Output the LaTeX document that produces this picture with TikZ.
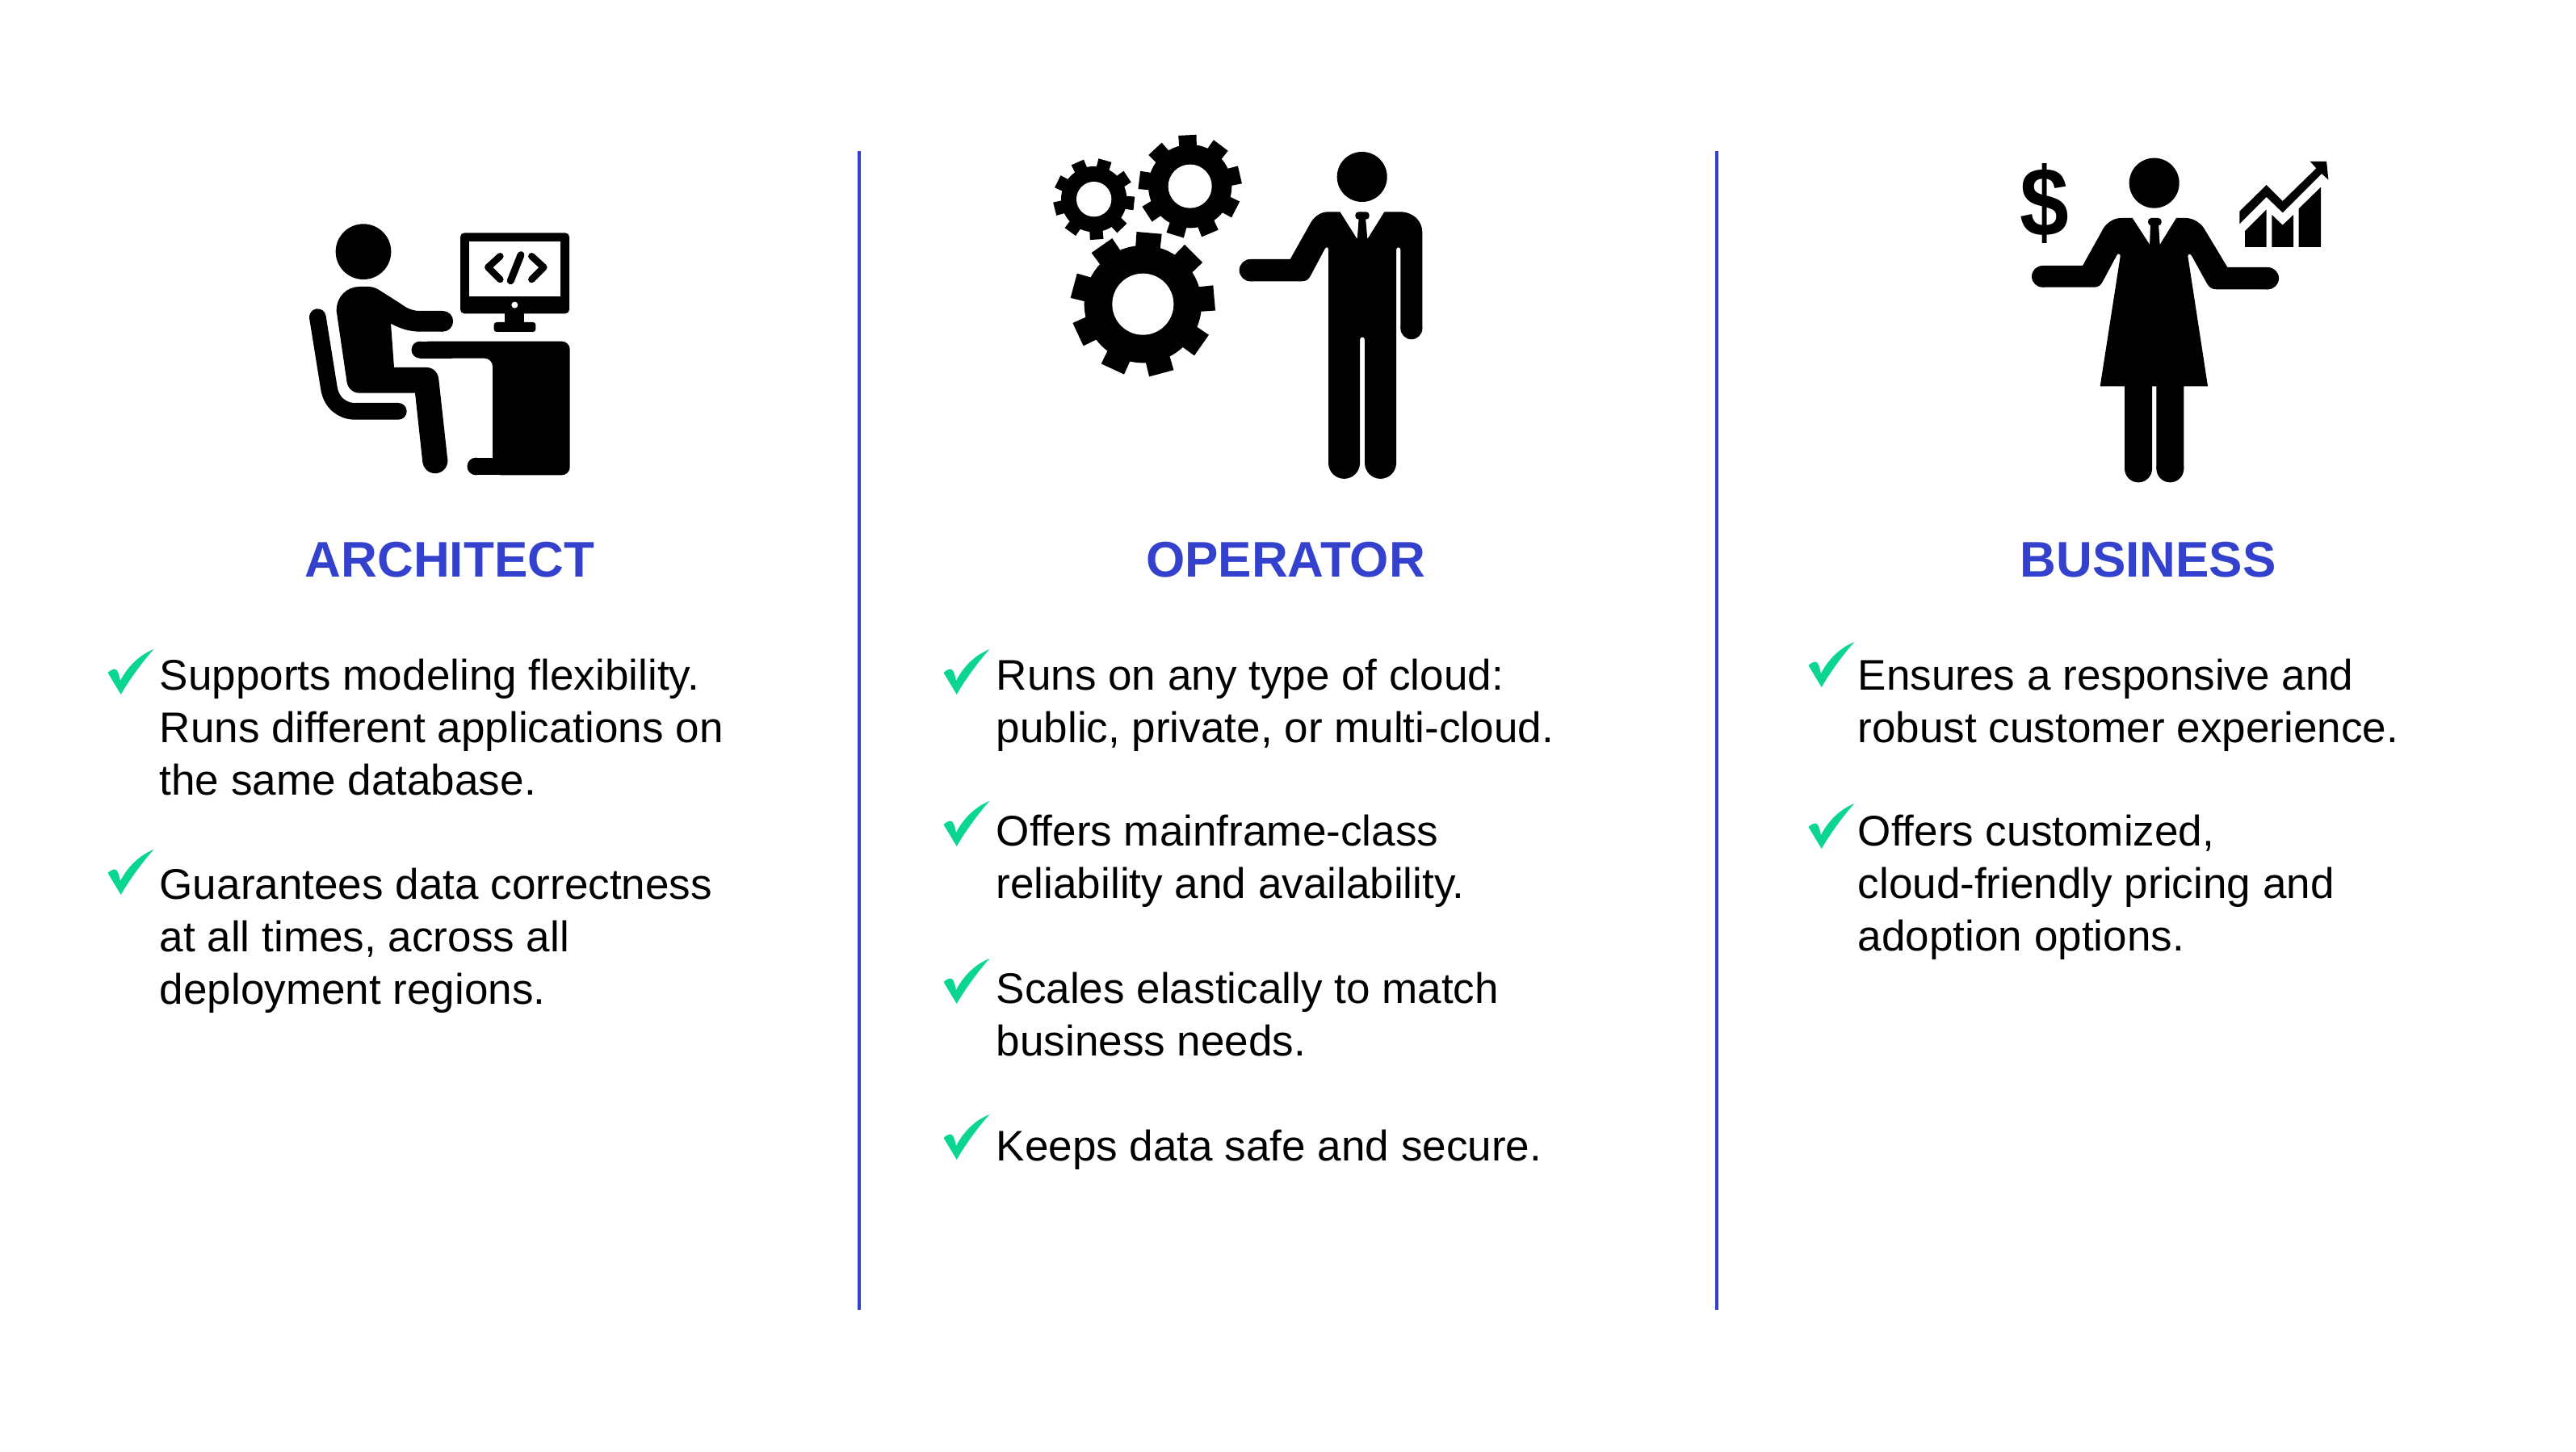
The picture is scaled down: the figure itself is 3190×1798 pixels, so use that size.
\documentclass[tikz,border=0pt]{standalone}
\usepackage{fontspec}
\setmainfont{Liberation Sans}
\definecolor{rolebl}{RGB}{51,65,204}
\definecolor{tickgr}{RGB}{10,214,145}
\tikzset{
  icon/.style={x=.033333mm,y=-.033333mm},
  role/.style={text=rolebl, inner sep=0, anchor=base, font=\fontsize{17.65pt}{20pt}\selectfont\bfseries},
  para/.style={inner sep=0, anchor=north west, align=left, font=\fontsize{15.1pt}{18.5pt}\selectfont,
    execute at begin node={\rule{0pt}{.45cm}}},
  rule/.style={rolebl, line width=.045cm}
}
\begin{document}
\begin{tikzpicture}[x=.1mm,y=-.1mm]
\useasboundingbox (0,0) rectangle (3190,1798);

\draw[rule] (1064,187)--(1064,1622);
\draw[rule] (2126,187)--(2126,1622);

\node[role] (architect) at (557,715) {ARCHITECT};
\node[role] (operator) at (1592,715) {OPERATOR};
\node[role] (business) at (2660,715) {BUSINESS};

\foreach \tx/\ty in {148/860, 148/1108, 1183/860, 1183/1048, 1183/1243, 1183/1436, 2254/851, 2254/1051} {
 \begin{scope}[shift={(\tx,\ty)}]
 \fill[tickgr] (1.7,0) -- (-14.5,-27) .. controls (-10,-31) and (-6,-33) .. (-3.3,-30) .. controls (-1,-27) and (0,-21) .. (1,-17)
   .. controls (8,-31) and (22,-48) .. (42.3,-56) .. controls (28,-40) and (12,-18) .. (1.7,0) -- cycle;
 \end{scope}
}

\node[para] (archa) at (197,815) {Supports modeling flexibility.\\Runs different applications on\\the same database.};
\node[para] (archb) at (197,1074) {Guarantees data correctness\\at all times, across all\\deployment regions.};
\node[para] (opera) at (1233,815) {Runs on any type of cloud:\\public, private, or multi-cloud.};
\node[para] (operb) at (1233,1008) {Offers mainframe-class\\reliability and availability.};
\node[para] (operc) at (1233,1203) {Scales elastically to match\\business needs.};
\node[para] (operd) at (1233,1392) {Keeps data safe and secure.};
\node[para] (busa) at (2300,815) {Ensures a responsive and\\robust customer experience.};
\node[para] (busb) at (2300,1008) {Offers customized,\\cloud-friendly pricing and\\adoption options.};

\begin{scope}[shift={(360,260)},icon]
\fill (270,155) circle[radius=103];
\fill (170,375) .. controls (170,320) and (210,285) .. (255,285) -- (290,285) .. controls (305,285) and (318,291) .. (328,297) -- (405,346)
  .. controls (425,360) and (445,375) .. (480,375) -- (565,375) -- (565,452) -- (480,452) .. controls (440,452) and (405,440) .. (372,422)
  -- (384,585) -- (505,585) .. controls (530,585) and (548,605) .. (550,630) -- (583,930) -- (490,938) -- (462,680) -- (255,680)
  .. controls (230,680) and (210,660) .. (208,635) -- cycle;
\fill (565,413.5) circle[radius=38.5];
\fill (536.5,932) circle[radius=46.5];
\draw[line width=.207cm, line cap=round] (100,398) -- (142,660) .. controls (150,715) and (190,748) .. (240,748) -- (400,748);
\fill[rounded corners=.1cm] (480,488) -- (1037,488) -- (1037,985) -- (750,985) -- (750,551) -- (480,551) -- cycle;
\fill (480,488) rectangle (600,551);
\fill (480,519.5) circle[radius=31.5];
\fill (688,920) rectangle (800,985);
\fill (688,952.5) circle[radius=32.5];
\fill[rounded corners=.05cm] (630,85) rectangle (1035,385);
\fill[white] (664,118) rectangle (1002,320);
\fill[white] (832,353) circle[radius=12];
\fill (795,380) rectangle (868,425);
\fill[rounded corners=.033cm] (755,417) rectangle (910,453);
\draw[line width=.085cm, line cap=round, line join=round] (778,172)--(733,213)--(778,258);
\draw[line width=.085cm, line cap=round, line join=round] (895,172)--(940,213)--(895,258);
\draw[line width=.09cm, line cap=round] (855,167)--(817,263);
\end{scope}

\begin{scope}[shift={(1290,150)},icon]
\foreach \cx/\cy/\rb/\ro/\rh/\rot/\wo/\wb in {376/680/218/270/114/85/10/12.5, 551/242/155/193/81/93/10/12.5, 194/290/122/152/65/74/9.5/12} {
 \fill (\cx,\cy) circle[radius=\rb];
 \foreach \n in {0,...,8} {
  \pgfmathsetmacro{\ang}{\rot+40*\n}
  \fill ({\cx+(\rb-6)*cos(\ang-\wb)},{\cy-(\rb-6)*sin(\ang-\wb)}) -- ({\cx+\ro*cos(\ang-\wo)},{\cy-\ro*sin(\ang-\wo)})
    -- ({\cx+\ro*cos(\ang+\wo)},{\cy-\ro*sin(\ang+\wo)}) -- ({\cx+(\rb-6)*cos(\ang+\wb)},{\cy-(\rb-6)*sin(\ang+\wb)}) -- cycle;
 }
 \fill[white] (\cx,\cy) circle[radius=\rh];
}
\fill (1190,207) circle[radius=93];
\fill (1108,337)--(1170,435)--(1212,435)--(1273,337)--(1330,337) .. controls (1380,337) and (1414,370) .. (1414,415) -- (1414,770) -- (1333,770)
  -- (1333,478) .. controls (1333,466) and (1317,466) .. (1317,478) -- (1317,1270) -- (1200,1270) -- (1200,812) .. controls (1200,799) and (1182,799) .. (1182,812)
  -- (1182,1270) -- (1065,1270) -- (1065,478) .. controls (1065,466) and (1055,465) .. (1050,478) -- (1000,572) .. controls (992,587) and (985,595) .. (965,595)
  -- (775,595) -- (775,513) -- (923,513) -- (995,385) .. controls (1010,355) and (1035,337) .. (1065,337) -- cycle;
\fill (1373.5,770) circle[radius=40.5];
\fill (1258.5,1270) circle[radius=58.5];
\fill (1123.5,1270) circle[radius=58.5];
\fill (775,554) circle[radius=41];
\fill[white] (1172,345) rectangle (1210,367);
\fill[white] (1170,367)--(1178,367)--(1172,435)--cycle;
\fill[white] (1212,367)--(1203,367)--(1210,435)--cycle;
\fill (1178,360)--(1203,360)--(1210,440)--(1172,440)--cycle;
\fill[rounded corners=.04cm] (1165,337) rectangle (1217,365);
\end{scope}

\begin{scope}[shift={(2480,180)},icon]
\fill (563,140) circle[radius=93];
\fill (482,270)--(545,367)--(585,367)--(645,270)--(680,270) .. controls (710,270) and (740,290) .. (755,320) -- (835,453) -- (985,453) -- (985,535)
  -- (795,535) .. controls (775,535) and (765,525) .. (757,510) -- (702,410) .. controls (698,402) and (688,402) .. (688,412) -- (762,895) -- (673,895)
  -- (673,1200) -- (571,1200) -- (571,895) -- (555,895) -- (555,1200) -- (453,1200) -- (453,895) -- (362,895) -- (437,412)
  .. controls (437,402) and (428,400) .. (424,408) -- (372,505) .. controls (365,520) and (355,527) .. (340,527) -- (148,527) -- (148,447) -- (297,447)
  -- (365,325) .. controls (380,290) and (410,270) .. (440,270) -- cycle;
\fill (985,494) circle[radius=41];
\fill (148,487) circle[radius=40];
\fill (622,1201) circle[radius=51];
\fill (504,1201) circle[radius=51];
\fill[white] (545,345) rectangle (585,367);
\fill[white] (537,300)--(549,300)--(545,367)--cycle;
\fill[white] (592,300)--(580,300)--(585,367)--cycle;
\fill (549,290)--(579,290)--(584,372)--(546,372)--cycle;
\fill[rounded corners=.04cm] (540,270) rectangle (590,298);
\fill (900,318)--(980,238)--(980,378)--(900,378)--cycle;
\fill (1000,258)--(1040,296)--(1080,258)--(1080,378)--(1000,378)--cycle;
\fill (1100,235)--(1182,155)--(1182,378)--(1100,378)--cycle;
\fill (880,245)--(980,147)--(1040,207)--(1165,85)--(1142,60)--(1203,60)--(1210,128)--(1185,105)--(1040,250)--(980,192)--(880,292)--cycle;
\end{scope}

\node[inner sep=0, xscale=.9, font=\fontsize{34.5pt}{36pt}\selectfont\bfseries] (dollar) at (2531.7,252) {\$};
\end{tikzpicture}
\end{document}
